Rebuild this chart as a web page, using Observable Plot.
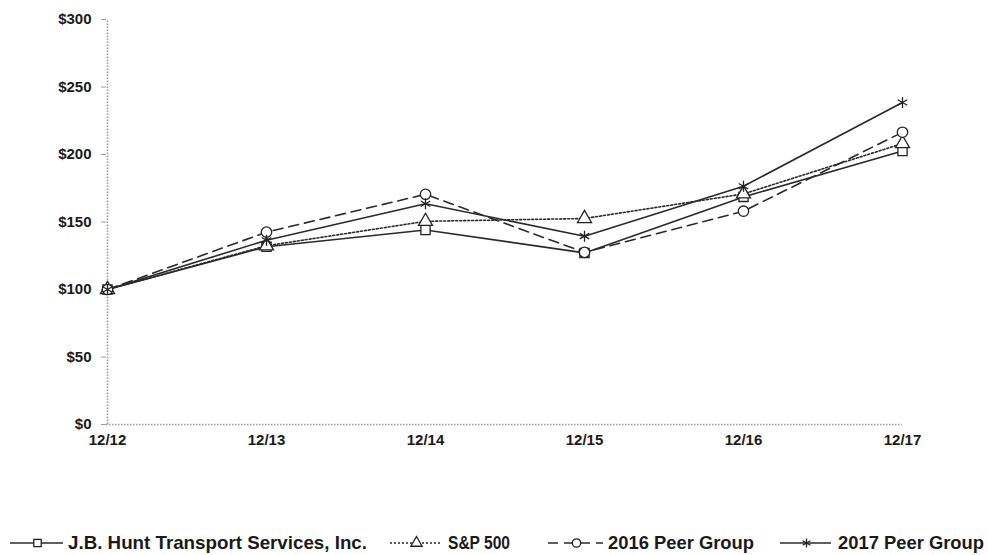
<!DOCTYPE html>
<html>
<head>
<meta charset="utf-8">
<script src="https://cdn.jsdelivr.net/npm/d3@7"></script>
<script src="https://cdn.jsdelivr.net/npm/@observablehq/plot@0.6"></script>
<style>
  body { margin: 0; background: #fff; font-family: "Liberation Sans", Arial, sans-serif; }
  #legend { display: block; }
</style>
</head>
<body>
<div id="chart"></div>
<div id="legend"></div>
<script>
const periods = ["12/12", "12/13", "12/14", "12/15", "12/16", "12/17"];
const seriesNames = ["J.B. Hunt Transport Services, Inc.", "S&P 500", "2016 Peer Group", "2017 Peer Group"];
const jbHunt  = [100, 131.7, 144.1, 127.1, 168.6, 202.6];
const sp500   = [100, 132.4, 150.5, 152.6, 170.8, 208.1];
const peer2016 = [100, 142.5, 170.5, 127.5, 158.0, 216.5];
const peer2017 = [100, 136.5, 163.5, 139.5, 176.5, 238.5];
const yTicks = [0, 50, 100, 150, 200, 250, 300];

const seriesValues = [jbHunt, sp500, peer2016, peer2017];
const symbols = ["square", "triangle", "circle", "asterisk"];
const dashes = [null, "2,2", "10,6", null];

const data = [];
seriesNames.forEach((name, si) => {
  periods.forEach((p, i) => data.push({series: name, si, period: p, value: seriesValues[si][i]}));
});

const marks = [
  Plot.ruleX([periods[0]], {y1: 0, y2: 300, stroke: "#999", strokeDasharray: "1.5,1.5", strokeWidth: 1.5}),
  Plot.ruleY([0], {stroke: "#999", strokeDasharray: "1.5,1.5", strokeWidth: 1.5}),
  Plot.axisY({ticks: yTicks, tickSize: 5, stroke: "#999", tickFormat: () => ""}),
  Plot.axisY({ticks: yTicks, tickSize: 0, tickPadding: 15, tickFormat: d => "$" + d, fill: "#1a1a1a"}),
  Plot.axisX({tickSize: 0, tickPadding: 10, fill: "#1a1a1a"})
];
seriesNames.forEach((name, si) => {
  const d = data.filter(r => r.si === si);
  marks.push(Plot.line(d, {x: "period", y: "value", stroke: "#2a2a2a", strokeWidth: 1.6,
    strokeDasharray: dashes[si] ?? undefined}));
});
seriesNames.forEach((name, si) => {
  const d = data.filter(r => r.si === si);
  marks.push(Plot.dot(d, {x: "period", y: "value", symbol: () => symbols[si], r: 5.2,
    fill: si === 3 ? "none" : "white", stroke: "#222", strokeWidth: 1.3}));
});

const chart = Plot.plot({
  width: 988,
  height: 470,
  marginLeft: 106,
  marginRight: 86,
  marginTop: 19,
  marginBottom: 46,
  style: {fontFamily: "'Liberation Sans', Arial, sans-serif", fontSize: "15px", fontWeight: "bold", color: "#1a1a1a", background: "white"},
  x: {type: "point", domain: periods, padding: 0, label: null},
  y: {domain: [0, 300], label: null},
  symbol: {type: "identity"},
  marks
});
document.getElementById("chart").appendChild(chart);

// Legend
const legendItems = [
  {x0: 10, x1: 63, tx: 68, tw: 299},
  {x0: 390, x1: 441, tx: 448, tw: 62},
  {x0: 548, x1: 603, tx: 608, tw: 146},
  {x0: 780, x1: 831, tx: 838, tw: 146}
];
const lsvg = d3.select("#legend").append("svg").attr("width", 988).attr("height", 85);
seriesNames.forEach((name, si) => {
  const it = legendItems[si];
  const cy = 73;
  const g = lsvg.append("g");
  g.append("line").attr("x1", it.x0).attr("x2", it.x1).attr("y1", cy).attr("y2", cy)
    .attr("stroke", "#2a2a2a").attr("stroke-width", 1.6)
    .attr("stroke-dasharray", dashes[si] ?? null);
  const sym = {square: d3.symbolSquare, triangle: d3.symbolTriangle, circle: d3.symbolCircle, asterisk: d3.symbolAsterisk}[symbols[si]];
  g.append("path").attr("d", d3.symbol(sym, 55)()).attr("transform", `translate(${(it.x0 + it.x1) / 2 + 1},${cy})`)
    .attr("fill", si === 3 ? "none" : "white").attr("stroke", "#222").attr("stroke-width", 1.3);
  g.append("text").attr("x", it.tx).attr("y", cy).attr("dy", "0.35em")
    .attr("font-family", "'Liberation Sans', Arial, sans-serif").attr("font-weight", "bold")
    .attr("font-size", 18.5).attr("fill", "#1a1a1a")
    .attr("textLength", it.tw).attr("lengthAdjust", "spacingAndGlyphs").text(name);
});
</script>
</body>
</html>
